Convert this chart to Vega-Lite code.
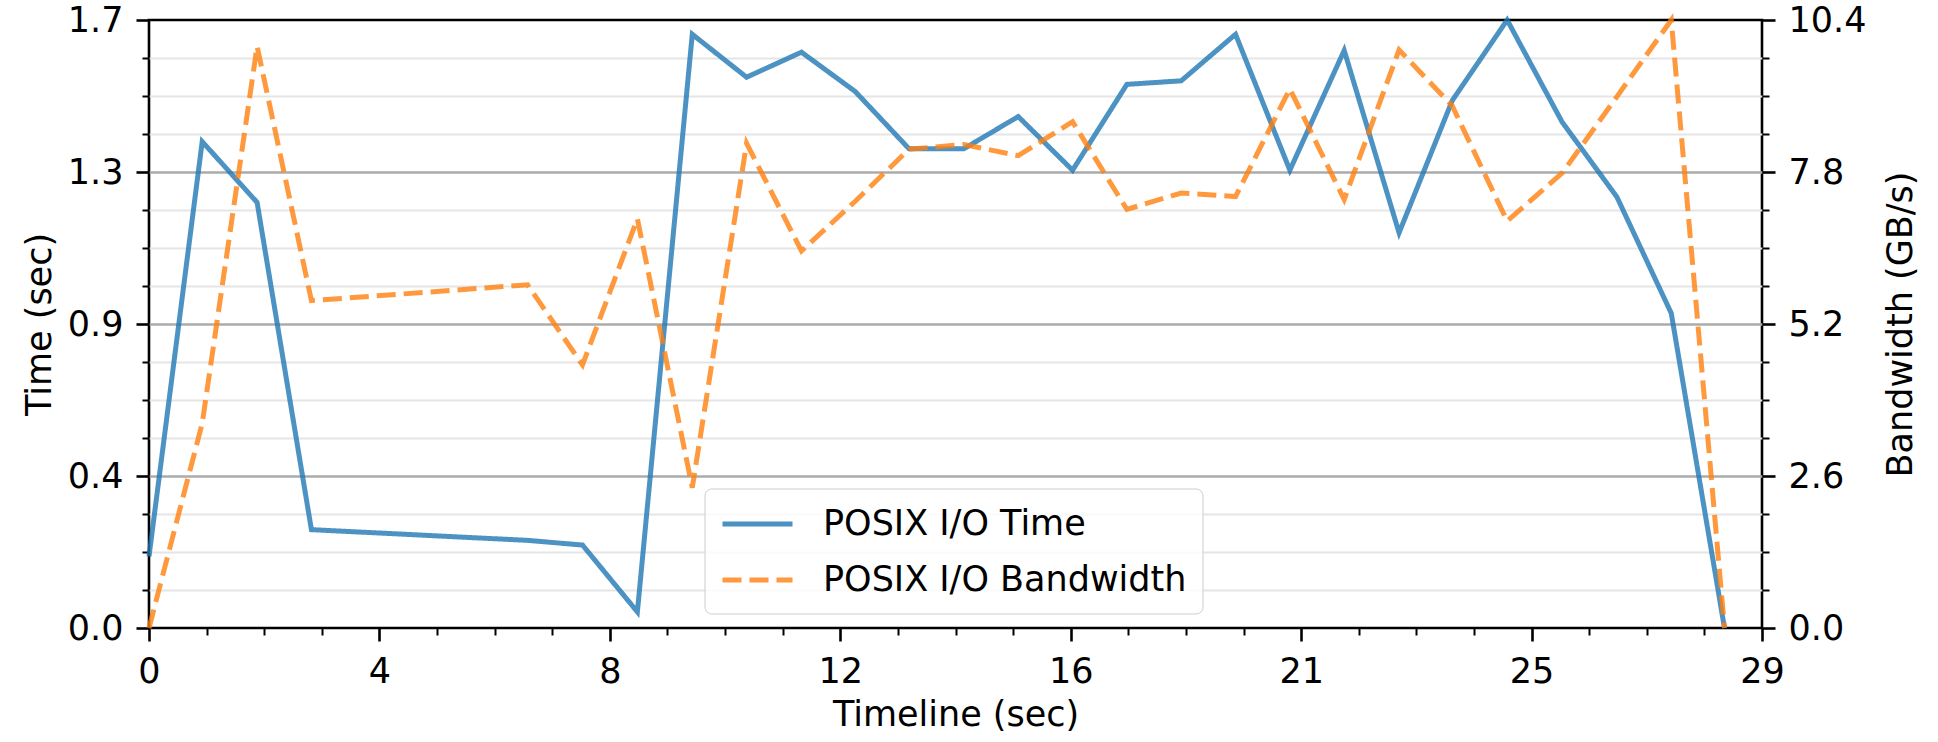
{
  "$schema": "https://vega.github.io/schema/vega-lite/v6.json",
  "width": 1613,
  "height": 608,
  "autosize": {"type": "none"},
  "padding": {"left": 149, "top": 20, "right": 176, "bottom": 114},
  "background": "white",
  "config": {
    "font": "DejaVu Sans",
    "view": {"stroke": "#000", "strokeWidth": 2.6},
    "axis": {
      "labelFont": "DejaVu Sans",
      "titleFont": "DejaVu Sans",
      "labelFontSize": 35,
      "titleFontSize": 35,
      "titleFontWeight": "normal",
      "labelColor": "#000",
      "titleColor": "#000",
      "tickColor": "#000",
      "domain": false,
      "labelFlush": false,
      "labelOverlap": false,
      "labelPadding": 13,
      "tickSize": 13,
      "tickWidth": 2.6
    }
  },
  "data": {
    "values": [
      {"t": 0.0, "series": "POSIX I/O Time", "value": 0.2},
      {"t": 0.95, "series": "POSIX I/O Time", "value": 1.36},
      {"t": 1.93, "series": "POSIX I/O Time", "value": 1.19},
      {"t": 2.9, "series": "POSIX I/O Time", "value": 0.275},
      {"t": 6.76, "series": "POSIX I/O Time", "value": 0.245},
      {"t": 7.74, "series": "POSIX I/O Time", "value": 0.232},
      {"t": 8.72, "series": "POSIX I/O Time", "value": 0.045},
      {"t": 9.7, "series": "POSIX I/O Time", "value": 1.66},
      {"t": 10.67, "series": "POSIX I/O Time", "value": 1.54},
      {"t": 11.65, "series": "POSIX I/O Time", "value": 1.61},
      {"t": 12.61, "series": "POSIX I/O Time", "value": 1.5},
      {"t": 13.57, "series": "POSIX I/O Time", "value": 1.34},
      {"t": 14.55, "series": "POSIX I/O Time", "value": 1.34},
      {"t": 15.52, "series": "POSIX I/O Time", "value": 1.43},
      {"t": 16.49, "series": "POSIX I/O Time", "value": 1.28},
      {"t": 17.46, "series": "POSIX I/O Time", "value": 1.52},
      {"t": 18.43, "series": "POSIX I/O Time", "value": 1.53},
      {"t": 19.4, "series": "POSIX I/O Time", "value": 1.66},
      {"t": 20.37, "series": "POSIX I/O Time", "value": 1.28},
      {"t": 21.34, "series": "POSIX I/O Time", "value": 1.615},
      {"t": 22.32, "series": "POSIX I/O Time", "value": 1.105},
      {"t": 23.27, "series": "POSIX I/O Time", "value": 1.475},
      {"t": 24.25, "series": "POSIX I/O Time", "value": 1.7},
      {"t": 25.23, "series": "POSIX I/O Time", "value": 1.415},
      {"t": 26.21, "series": "POSIX I/O Time", "value": 1.205},
      {"t": 27.18, "series": "POSIX I/O Time", "value": 0.88},
      {"t": 28.13, "series": "POSIX I/O Time", "value": 0.0},
      {"t": 0.0, "series": "POSIX I/O Bandwidth", "value": 0.0},
      {"t": 0.95, "series": "POSIX I/O Bandwidth", "value": 3.5},
      {"t": 1.93, "series": "POSIX I/O Bandwidth", "value": 9.95},
      {"t": 2.9, "series": "POSIX I/O Bandwidth", "value": 5.6},
      {"t": 6.76, "series": "POSIX I/O Bandwidth", "value": 5.87},
      {"t": 7.74, "series": "POSIX I/O Bandwidth", "value": 4.5},
      {"t": 8.72, "series": "POSIX I/O Bandwidth", "value": 7.0},
      {"t": 9.7, "series": "POSIX I/O Bandwidth", "value": 2.4},
      {"t": 10.67, "series": "POSIX I/O Bandwidth", "value": 8.29},
      {"t": 11.65, "series": "POSIX I/O Bandwidth", "value": 6.45},
      {"t": 12.61, "series": "POSIX I/O Bandwidth", "value": 7.3},
      {"t": 13.57, "series": "POSIX I/O Bandwidth", "value": 8.19},
      {"t": 14.55, "series": "POSIX I/O Bandwidth", "value": 8.27},
      {"t": 15.52, "series": "POSIX I/O Bandwidth", "value": 8.08},
      {"t": 16.49, "series": "POSIX I/O Bandwidth", "value": 8.66},
      {"t": 17.46, "series": "POSIX I/O Bandwidth", "value": 7.16},
      {"t": 18.43, "series": "POSIX I/O Bandwidth", "value": 7.44},
      {"t": 19.4, "series": "POSIX I/O Bandwidth", "value": 7.38},
      {"t": 20.37, "series": "POSIX I/O Bandwidth", "value": 9.22},
      {"t": 21.34, "series": "POSIX I/O Bandwidth", "value": 7.33},
      {"t": 22.32, "series": "POSIX I/O Bandwidth", "value": 9.89},
      {"t": 23.27, "series": "POSIX I/O Bandwidth", "value": 8.93},
      {"t": 24.25, "series": "POSIX I/O Bandwidth", "value": 6.96},
      {"t": 25.23, "series": "POSIX I/O Bandwidth", "value": 7.78},
      {"t": 26.21, "series": "POSIX I/O Bandwidth", "value": 9.09},
      {"t": 27.18, "series": "POSIX I/O Bandwidth", "value": 10.4},
      {"t": 28.13, "series": "POSIX I/O Bandwidth", "value": 0.0}
    ]
  },
  "layer": [
    {
      "transform": [{"filter": "datum.series === 'POSIX I/O Time'"}],
      "mark": {"type": "line", "strokeWidth": 0, "opacity": 0},
      "encoding": {
        "x": {
          "field": "t", "type": "quantitative",
          "scale": {"domain": [0, 28.8], "nice": false, "zero": false},
          "axis": {
            "orient": "bottom",
            "values": [1.028571, 2.057143, 3.085714, 5.142857, 6.171429, 7.2, 9.257143, 10.285714, 11.314286, 13.371429, 14.4, 15.428571, 17.485714, 18.514286, 19.542857, 21.6, 22.628571, 23.657143, 25.714286, 26.742857, 27.771429],
            "labels": false, "tickSize": 7, "tickWidth": 2, "grid": false, "title": null
          }
        },
        "y": {
          "field": "value", "type": "quantitative",
          "scale": {"domain": [0, 1.7], "nice": false},
          "axis": {
            "orient": "left",
            "values": [0.10625, 0.2125, 0.31875, 0.53125, 0.6375, 0.74375, 0.95625, 1.0625, 1.16875, 1.38125, 1.4875, 1.59375],
            "labels": false, "tickSize": 7, "tickWidth": 2, "grid": true, "gridColor": "#e5e5e5", "gridWidth": 2, "title": null
          }
        }
      }
    },
    {
      "transform": [{"filter": "datum.series === 'POSIX I/O Time'"}],
      "mark": {"type": "line", "strokeWidth": 0, "opacity": 0},
      "encoding": {
        "x": {"field": "t", "type": "quantitative", "axis": null},
        "y": {
          "field": "value", "type": "quantitative",
          "scale": {"domain": [0, 1.7], "nice": false},
          "axis": {
            "orient": "left",
            "values": [0.425, 0.85, 1.275],
            "labels": false, "ticks": false, "grid": true, "gridColor": "#ababab", "gridWidth": 2.4, "title": null
          }
        }
      }
    },
    {
      "transform": [{"filter": "datum.series === 'POSIX I/O Bandwidth'"}],
      "mark": {"type": "line", "strokeWidth": 0, "opacity": 0},
      "encoding": {
        "x": {"field": "t", "type": "quantitative", "axis": null},
        "y": {
          "field": "value", "type": "quantitative",
          "scale": {"domain": [0, 10.4], "nice": false},
          "axis": {
            "orient": "right",
            "values": [0.65, 1.3, 1.95, 3.25, 3.9, 4.55, 5.85, 6.5, 7.15, 8.45, 9.1, 9.75],
            "labels": false, "tickSize": 7, "tickWidth": 2, "grid": false, "title": null
          }
        }
      }
    },
    {
      "transform": [{"filter": "datum.series === 'POSIX I/O Time'"}],
      "mark": {"type": "line", "strokeWidth": 5, "opacity": 0.8},
      "encoding": {
        "x": {
          "field": "t", "type": "quantitative",
          "axis": {
            "orient": "bottom",
            "values": [0, 4.114286, 8.228571, 12.342857, 16.457143, 20.571429, 24.685714, 28.8],
            "format": ".0f", "grid": false, "title": "Timeline (sec)", "titlePadding": 8
          }
        },
        "y": {
          "field": "value", "type": "quantitative",
          "scale": {"domain": [0, 1.7], "nice": false},
          "axis": {
            "orient": "left",
            "values": [0, 0.425, 0.85, 1.275, 1.7],
            "labelExpr": "format(datum.value + 0.0001, '.1f')",
            "grid": false,
            "title": "Time (sec)", "titlePadding": 10
          }
        },
        "color": {
          "field": "series", "type": "nominal",
          "scale": {"domain": ["POSIX I/O Time", "POSIX I/O Bandwidth"], "range": ["#1f77b4", "#ff7f0e"]},
          "legend": {
            "title": null, "orient": "none", "legendX": 555.5, "legendY": 468.5,
            "symbolType": "M-1,0L3,0", "symbolSize": 1225, "symbolStrokeWidth": 5, "symbolOpacity": 0.8,
            "labelFont": "DejaVu Sans", "labelFontSize": 35, "labelColor": "#000", "labelOffset": 63, "labelLimit": 1000,
            "rowPadding": 18, "padding": 15.5, "strokeColor": "#cccccc", "fillColor": "rgba(255,255,255,0.8)", "cornerRadius": 7
          }
        },
        "strokeDash": {
          "field": "series", "type": "nominal",
          "scale": {"domain": ["POSIX I/O Time", "POSIX I/O Bandwidth"], "range": [[1, 0], [19, 8]]},
          "legend": {
            "title": null, "orient": "none", "legendX": 555.5, "legendY": 468.5,
            "symbolType": "M-1,0L3,0", "symbolSize": 1225, "symbolStrokeWidth": 5, "symbolOpacity": 0.8,
            "labelFont": "DejaVu Sans", "labelFontSize": 35, "labelColor": "#000", "labelOffset": 63, "labelLimit": 1000,
            "rowPadding": 18, "padding": 15.5, "strokeColor": "#cccccc", "fillColor": "rgba(255,255,255,0.8)", "cornerRadius": 7
          }
        }
      }
    },
    {
      "transform": [{"filter": "datum.series === 'POSIX I/O Bandwidth'"}],
      "mark": {"type": "line", "strokeWidth": 5, "opacity": 0.8},
      "encoding": {
        "x": {"field": "t", "type": "quantitative", "axis": null},
        "y": {
          "field": "value", "type": "quantitative",
          "scale": {"domain": [0, 10.4], "nice": false},
          "axis": {
            "orient": "right",
            "values": [0, 2.6, 5.2, 7.8, 10.4],
            "format": ".1f", "grid": false,
            "title": "Bandwidth (GB/s)", "titleAngle": 270, "titleBaseline": "top", "titlePadding": 18
          }
        },
        "color": {"field": "series", "type": "nominal"},
        "strokeDash": {"field": "series", "type": "nominal"}
      }
    }
  ],
  "resolve": {
    "scale": {"y": "independent"},
    "axis": {"y": "independent", "x": "independent"}
  }
}
